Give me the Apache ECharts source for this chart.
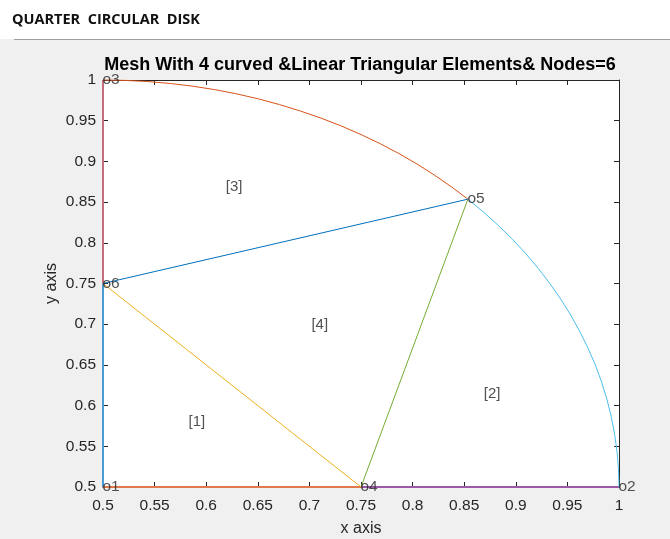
<!DOCTYPE html>
<html>
<head>
<meta charset="utf-8">
<script src="https://cdn.jsdelivr.net/npm/echarts@6/dist/echarts.min.js"></script>
<style>html,body{margin:0;padding:0;background:#f0f0f0;}#c{width:670px;height:539px;}</style>
</head>
<body>
<div id="c"></div>
<script>
// Nodes
const nodeNames = ['o1', 'o2', 'o3', 'o4', 'o5', 'o6'];
const nodeX = [0.5, 1.0, 0.5, 0.75, 0.8536, 0.5];
const nodeY = [0.5, 0.5, 1.0, 0.5, 0.8536, 0.75];

// Element labels
const elemNames = ['[1]', '[2]', '[3]', '[4]'];
const elemX = [0.591, 0.877, 0.627, 0.710];
const elemY = [0.580, 0.615, 0.869, 0.699];

// Curved edge o3 -> o5 (points read along the arc)
const arc35X = [0.5, 0.5218, 0.5436, 0.5653, 0.5868, 0.6082, 0.6294, 0.6504, 0.6710, 0.6913, 0.7113, 0.7309, 0.75, 0.7687, 0.7868, 0.8044, 0.8214, 0.8378, 0.8536];
const arc35Y = [1.0, 0.9995, 0.9981, 0.9957, 0.9924, 0.9882, 0.9830, 0.9769, 0.9698, 0.9619, 0.9532, 0.9435, 0.9330, 0.9217, 0.9096, 0.8967, 0.8830, 0.8686, 0.8536];
// Curved edge o5 -> o2
const arc52X = [0.8536, 0.8686, 0.8830, 0.8967, 0.9096, 0.9217, 0.9330, 0.9435, 0.9532, 0.9619, 0.9698, 0.9769, 0.9830, 0.9882, 0.9924, 0.9957, 0.9981, 0.9995, 1.0];
const arc52Y = [0.8536, 0.8378, 0.8214, 0.8044, 0.7868, 0.7687, 0.75, 0.7309, 0.7113, 0.6913, 0.6710, 0.6504, 0.6294, 0.6082, 0.5868, 0.5653, 0.5436, 0.5218, 0.5];

// Straight edges: [from node index, to node index]
const edgeO1O6 = [0, 5];
const edgeO1O4 = [0, 3];
const edgeO6O4 = [5, 3];
const edgeO4O2 = [3, 1];
const edgeO4O5 = [3, 4];
const edgeO3O6 = [2, 5];
const edgeO6O5 = [5, 4];

// Axis ticks
const xTicks = [0.5, 0.55, 0.6, 0.65, 0.7, 0.75, 0.8, 0.85, 0.9, 0.95, 1];
const yTicks = [0.5, 0.55, 0.6, 0.65, 0.7, 0.75, 0.8, 0.85, 0.9, 0.95, 1];

const FONT = '"Liberation Sans", Arial, sans-serif';
const AX = '#262626';

function edge(e) { return e.map(i => [nodeX[i], nodeY[i]]); }
function zip(a, b) { return a.map((v, i) => [v, b[i]]); }
function lineSeries(data, color, w) {
  return { type: 'line', data: data, showSymbol: false, symbol: 'none', clip: false,
    lineStyle: { color: color, width: w || 1 }, z: 3, animation: false };
}
const fmt = v => String(Math.round(v * 100) / 100);

const chart = echarts.init(document.getElementById('c'), null, { renderer: 'canvas' });
chart.setOption({
  backgroundColor: '#f0f0f0',
  animation: false,
  graphic: [
    { type: 'rect', shape: { x: 0, y: 0, width: 670, height: 39 }, style: { fill: '#ffffff' }, silent: true },
    { type: 'line', shape: { x1: 14, y1: 39.5, x2: 670, y2: 39.5 }, style: { stroke: '#a0a0a0', lineWidth: 1 }, silent: true },
    { type: 'text', x: 12, y: 20, style: { text: 'QUARTER  CIRCULAR  DISK', font: 'bold 14.5px "Open Sans", sans-serif', fill: '#111', verticalAlign: 'middle' } },
    { type: 'text', x: 360, y: 65, style: { text: 'Mesh With 4 curved &Linear Triangular Elements& Nodes=6', font: 'bold 18px ' + FONT, fill: '#000', align: 'center', verticalAlign: 'middle' } }
  ],
  grid: { left: 103, right: 51, top: 80, bottom: 52, outerBoundsMode: 'none', containLabel: false,
    show: true, backgroundColor: '#ffffff', borderWidth: 0 },
  xAxis: [
    { type: 'value', min: xTicks[0], max: xTicks[xTicks.length - 1], interval: 0.05, position: 'bottom',
      axisLine: { show: true, onZero: false, lineStyle: { color: AX } },
      axisTick: { show: true, inside: true, length: 5, lineStyle: { color: AX } },
      axisLabel: { formatter: fmt, color: AX, fontSize: 15.5, fontFamily: FONT, margin: 11 },
      splitLine: { show: false },
      name: 'x axis', nameLocation: 'middle', nameGap: 34, nameMoveOverlap: false,
      nameTextStyle: { color: AX, fontSize: 16, fontFamily: FONT } },
    { type: 'value', min: xTicks[0], max: xTicks[xTicks.length - 1], interval: 0.05, position: 'top',
      axisLine: { show: true, onZero: false, lineStyle: { color: AX } },
      axisTick: { show: true, inside: true, length: 5, lineStyle: { color: AX } },
      axisLabel: { show: false }, splitLine: { show: false } }
  ],
  yAxis: [
    { type: 'value', min: yTicks[0], max: yTicks[yTicks.length - 1], interval: 0.05, position: 'left',
      axisLine: { show: true, onZero: false, lineStyle: { color: AX } },
      axisTick: { show: true, inside: true, length: 5, lineStyle: { color: AX } },
      axisLabel: { formatter: fmt, color: AX, fontSize: 15.5, fontFamily: FONT, margin: 7 },
      splitLine: { show: false },
      name: 'y axis', nameLocation: 'middle', nameGap: 43, nameMoveOverlap: false,
      nameTextStyle: { color: AX, fontSize: 16, fontFamily: FONT } },
    { type: 'value', min: yTicks[0], max: yTicks[yTicks.length - 1], interval: 0.05, position: 'right',
      axisLine: { show: true, onZero: false, lineStyle: { color: AX } },
      axisTick: { show: true, inside: true, length: 5, lineStyle: { color: AX } },
      axisLabel: { show: false }, splitLine: { show: false } }
  ],
  series: [
    lineSeries(edge(edgeO1O6), '#4a9bd3', 2),
    lineSeries(edge(edgeO1O4), '#e07a4c', 2),
    lineSeries(edge(edgeO6O4), '#EDB120'),
    lineSeries(edge(edgeO4O2), '#9a5aa8', 2),
    lineSeries(edge(edgeO4O5), '#77AC30'),
    lineSeries(zip(arc52X, arc52Y), '#4DBEEE'),
    lineSeries(edge(edgeO3O6), '#c46e7d', 2),
    lineSeries(edge(edgeO6O5), '#0072BD'),
    lineSeries(zip(arc35X, arc35Y), '#D95319'),
    { type: 'scatter', symbolSize: 1, z: 5, clip: false,
      data: nodeNames.map((n, i) => ({ value: [nodeX[i], nodeY[i]], name: n })),
      itemStyle: { color: 'rgba(0,0,0,0)' },
      label: { show: true, formatter: p => p.name, position: 'right', distance: -1, align: 'left', verticalAlign: 'middle',
        color: AX, fontSize: 15.5, fontFamily: FONT } },
    { type: 'scatter', symbolSize: 1, z: 5, clip: false,
      data: elemNames.map((n, i) => ({ value: [elemX[i], elemY[i]], name: n })),
      itemStyle: { color: 'rgba(0,0,0,0)' },
      label: { show: true, formatter: p => p.name, position: 'inside', align: 'center', verticalAlign: 'middle',
        color: AX, fontSize: 15, fontFamily: FONT } }
  ]
});
</script>
</body>
</html>
